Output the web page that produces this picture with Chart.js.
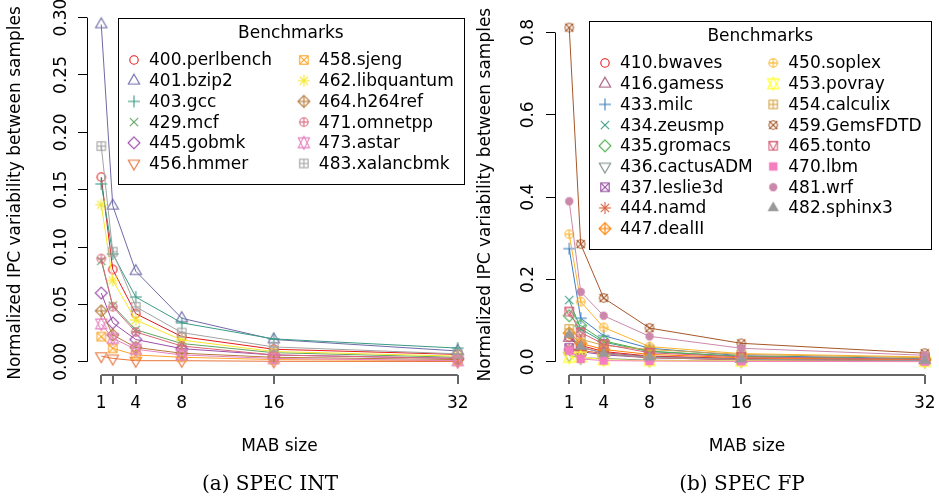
<!DOCTYPE html>
<html>
<head>
<meta charset="utf-8">
<script src="https://cdn.jsdelivr.net/npm/chart.js@4.4.0/dist/chart.umd.min.js"></script>
<style>
  html, body { margin: 0; padding: 0; background: #fff; overflow: hidden; }
  #wrap { position: relative; width: 939px; height: 501px; overflow: hidden; }
  canvas { position: absolute; top: 0; }
  #intChart { left: 0; }
  #fpChart { left: 470px; }
</style>
</head>
<body>
<div id="wrap">
  <canvas id="intChart" width="480" height="501"></canvas>
  <canvas id="fpChart" width="475" height="501"></canvas>
</div>
<script>
const mabSizes = [1, 2, 4, 8, 16, 32];

// SPEC INT
const intBenchmarks = ['400.perlbench', '401.bzip2', '403.gcc', '429.mcf', '445.gobmk', '456.hmmer',
  '458.sjeng', '462.libquantum', '464.h264ref', '471.omnetpp', '473.astar', '483.xalancbmk'];
const intValues = [
  [0.161, 0.0805, 0.042, 0.022, 0.011, 0.0065],
  [0.294, 0.136, 0.079, 0.038, 0.0195, 0.0095],
  [0.155, 0.094, 0.0565, 0.034, 0.020, 0.012],
  [0.088, 0.049, 0.028, 0.016, 0.008, 0.004],
  [0.060, 0.034, 0.0195, 0.0115, 0.006, 0.003],
  [0.005, 0.003, 0.001, 0.001, 0.0005, 0.0003],
  [0.022, 0.0118, 0.006, 0.004, 0.002, 0.001],
  [0.137, 0.071, 0.0365, 0.019, 0.009, 0.005],
  [0.0445, 0.0235, 0.0126, 0.0075, 0.004, 0.002],
  [0.090, 0.048, 0.026, 0.0138, 0.006, 0.003],
  [0.033, 0.0205, 0.011, 0.006, 0.003, 0.001],
  [0.188, 0.096, 0.048, 0.0255, 0.013, 0.007]
];
const intColors = ['#E41A1C', '#6E6AA8', '#3A9A85', '#62A562', '#9B4FA8', '#E8743B',
  '#FBA62B', '#F5E62A', '#B5793A', '#D8667A', '#E784C0', '#A3A3A3'];
const intTicks = [0, 0.05, 0.10, 0.15, 0.20, 0.25, 0.30];

// SPEC FP
const fpBenchmarks = ['410.bwaves', '416.gamess', '433.milc', '434.zeusmp', '435.gromacs', '436.cactusADM',
  '437.leslie3d', '444.namd', '447.dealII', '450.soplex', '453.povray', '454.calculix',
  '459.GemsFDTD', '465.tonto', '470.lbm', '481.wrf', '482.sphinx3'];
const fpValues = [
  [0.060, 0.040, 0.025, 0.014, 0.008, 0.004],
  [0.058, 0.035, 0.022, 0.013, 0.007, 0.004],
  [0.275, 0.106, 0.0635, 0.033, 0.015, 0.008],
  [0.150, 0.080, 0.048, 0.025, 0.013, 0.006],
  [0.112, 0.088, 0.051, 0.026, 0.013, 0.006],
  [0.015, 0.010, 0.008, 0.004, 0.002, 0.001],
  [0.034, 0.025, 0.017, 0.010, 0.005, 0.003],
  [0.030, 0.028, 0.020, 0.010, 0.005, 0.003],
  [0.070, 0.045, 0.030, 0.018, 0.010, 0.005],
  [0.310, 0.146, 0.0836, 0.037, 0.020, 0.012],
  [0.011, 0.012, 0.005, 0.003, 0.002, 0.001],
  [0.080, 0.055, 0.040, 0.030, 0.018, 0.010],
  [0.812, 0.286, 0.155, 0.082, 0.045, 0.021],
  [0.122, 0.0715, 0.043, 0.022, 0.012, 0.006],
  [0.027, 0.007, 0.003, 0.002, 0.001, 0.0005],
  [0.390, 0.170, 0.112, 0.062, 0.033, 0.016],
  [0.066, 0.037, 0.020, 0.011, 0.006, 0.003]
];
const fpColors = ['#E41A1C', '#A0587A', '#3D7FBF', '#3E9E86', '#4DAF4A', '#7E8C8A',
  '#984EA3', '#D9603B', '#FF7F00', '#FDB42A', '#FFFF33', '#D6A444',
  '#A65628', '#D6607A', '#F47EC0', '#CC88AA', '#999999'];
const fpTicks = [0, 0.2, 0.4, 0.6, 0.8];

Chart.defaults.font.family = "'DejaVu Sans', sans-serif";
Chart.defaults.font.size = 17;
Chart.defaults.color = '#000';

// R style plotting symbols (pch 1..17), drawn to small canvases used as point styles
const SYM_R = 4.2;
function pchSymbol(pch, color) {
  const c = document.createElement('canvas');
  c.width = 20; c.height = 20;
  const g = c.getContext('2d');
  g.translate(10, 10);
  g.strokeStyle = color; g.fillStyle = color; g.lineWidth = 1.1;
  const r = SYM_R, d = Math.SQRT2 * r;
  const line = (x1, y1, x2, y2) => { g.beginPath(); g.moveTo(x1, y1); g.lineTo(x2, y2); g.stroke(); };
  const circle = (fill) => { g.beginPath(); g.arc(0, 0, r, 0, Math.PI * 2); fill ? g.fill() : g.stroke(); };
  const square = (fill) => fill ? g.fillRect(-r, -r, 2 * r, 2 * r) : g.strokeRect(-r, -r, 2 * r, 2 * r);
  const poly = (pts, fill) => {
    g.beginPath();
    pts.forEach((p, i) => i ? g.lineTo(p[0], p[1]) : g.moveTo(p[0], p[1]));
    g.closePath();
    fill ? g.fill() : g.stroke();
  };
  const plus = (h) => { line(-h, 0, h, 0); line(0, -h, 0, h); };
  const cross = (h) => { line(-h, -h, h, h); line(-h, h, h, -h); };
  const ta = 1.5551 * r, tx = 1.3468 * r, tb = 0.7776 * r;
  const up = [[0, -ta], [tx, tb], [-tx, tb]];
  const down = [[0, ta], [tx, -tb], [-tx, -tb]];
  const diamond = [[0, -d], [d, 0], [0, d], [-d, 0]];
  switch (pch) {
    case 1: circle(false); break;
    case 2: poly(up); break;
    case 3: plus(d); break;
    case 4: cross(r); break;
    case 5: poly(diamond); break;
    case 6: poly(down); break;
    case 7: square(); cross(r); break;
    case 8: cross(r); plus(d); break;
    case 9: poly(diamond); plus(d); break;
    case 10: circle(); plus(r); break;
    case 11: {
      const yc = 0.5 * (tb + ta);
      poly([[0, -ta], [tx, yc], [-tx, yc]]);
      poly([[0, ta], [tx, -yc], [-tx, -yc]]);
      break;
    }
    case 12: square(); plus(r); break;
    case 13: circle(); cross(r); break;
    case 14: square(); poly([[-r, -r], [0, r], [r, -r]]); break;
    case 15: square(true); break;
    case 16: circle(true); break;
    case 17: poly(up, true); break;
  }
  return c;
}

// axis lines over the tick range only, legend box inside the plot and caption
const rStyle = {
  id: 'rStyle',
  afterDraw(chart, args, o) {
    const { ctx, chartArea: area, scales: { x, y } } = chart;
    ctx.save();
    ctx.strokeStyle = '#000';
    ctx.lineWidth = 1;
    const ax = Math.round(area.left) + 0.5;
    ctx.beginPath();
    ctx.moveTo(ax, y.getPixelForValue(o.yTicks[0]));
    ctx.lineTo(ax, y.getPixelForValue(o.yTicks[o.yTicks.length - 1]));
    ctx.stroke();
    ctx.strokeStyle = '#666';
    ctx.lineWidth = 2;
    const ay = Math.round(area.bottom);
    ctx.beginPath();
    ctx.moveTo(x.getPixelForValue(mabSizes[0]), ay);
    ctx.lineTo(x.getPixelForValue(mabSizes[mabSizes.length - 1]), ay);
    ctx.stroke();

    // legend
    ctx.font = '17px "DejaVu Sans"';
    const W = Math.max(...o.names.map(n => ctx.measureText(n).width));
    const rows = Math.ceil(o.names.length / 2);
    const bw = 76 + 2 * W, bh = 41 + (rows - 1) * 20.7 + 21;
    const bx = Math.round(area.right - 8 - bw), by = Math.round(area.top + 7);
    ctx.fillStyle = '#fff';
    ctx.fillRect(bx, by, bw, bh);
    ctx.strokeStyle = '#000';
    ctx.lineWidth = 1;
    ctx.strokeRect(bx + 0.5, by + 0.5, Math.round(bw), Math.round(bh));
    ctx.fillStyle = '#000';
    ctx.textBaseline = 'middle';
    ctx.textAlign = 'center';
    ctx.fillText('Benchmarks', bx + bw / 2, by + 15.5);
    ctx.textAlign = 'left';
    o.names.forEach((n, i) => {
      const col = Math.floor(i / rows), row = i % rows;
      const sx = bx + 16 + col * (W + 35);
      const sy = by + 42 + row * 20.7;
      ctx.drawImage(o.symbols[i], sx - 10, sy - 10);
      ctx.fillText(n, sx + 15, sy + 1);
    });

    // caption
    ctx.font = '20px "DejaVu Serif"';
    ctx.textAlign = 'center';
    ctx.fillText(o.caption, o.captionX, 485);
    ctx.restore();
  }
};

function buildChart(id, names, values, colors, yTicks, cfg) {
  const all = values.flat();
  const yMin = Math.min(...all), yMax = Math.max(...all);
  const yPad = 0.04 * (yMax - yMin);
  const xLo = mabSizes[0], xHi = mabSizes[mabSizes.length - 1];
  const xPad = 0.04 * (xHi - xLo);
  const symbols = names.map((n, i) => pchSymbol(i + 1, colors[i]));

  const datasets = names.map((name, i) => ({
    label: name,
    data: mabSizes.map((x, j) => ({ x: x, y: values[i][j] })),
    borderColor: colors[i],
    backgroundColor: colors[i],
    borderWidth: 1,
    pointStyle: symbols[i],
    pointRadius: 5,
    pointHoverRadius: 5,
    tension: 0,
    order: -i
  }));

  return new Chart(document.getElementById(id), {
    type: 'line',
    data: { datasets: datasets },
    options: {
      responsive: false,
      animation: false,
      events: [],
      layout: { padding: { left: 0, top: 11, right: cfg.padRight, bottom: 0 } },
      plugins: {
        legend: { display: false },
        tooltip: { enabled: false },
        rStyle: { names: names, symbols: symbols, yTicks: yTicks, caption: cfg.caption, captionX: cfg.captionX }
      },
      scales: {
        x: {
          type: 'linear',
          min: xLo - xPad,
          max: xHi + xPad,
          afterBuildTicks: s => { s.ticks = mabSizes.map(v => ({ value: v })); },
          afterFit: s => { s.height = 126; },
          border: { display: false },
          grid: { drawOnChartArea: false, drawTicks: true, tickLength: 9, color: '#666', lineWidth: 2 },
          ticks: {
            autoSkip: false, maxRotation: 0, padding: 9,
            callback: v => (v === 2 ? '' : String(v))
          },
          title: { display: true, text: 'MAB size', padding: { bottom: 44 } }
        },
        y: {
          min: yMin - yPad,
          max: yMax + yPad,
          afterBuildTicks: s => { s.ticks = yTicks.map(v => ({ value: v })); },
          afterFit: s => { s.width = cfg.yWidth; },
          border: { display: false },
          grid: { drawOnChartArea: false, drawTicks: true, tickLength: 9, color: '#000', lineWidth: 1 },
          ticks: {
            minRotation: 90, maxRotation: 90, crossAlign: 'center', padding: cfg.yTickPad,
            callback: v => v.toFixed(cfg.decimals)
          },
          title: { display: true, text: 'Normalized IPC variability between samples', padding: { top: 5 } }
        }
      }
    },
    plugins: [rStyle]
  });
}

buildChart('intChart', intBenchmarks, intValues, intColors, intTicks,
  { padRight: 8, yWidth: 87, yTickPad: -3, decimals: 2, caption: '(a) SPEC INT', captionX: 270 });
buildChart('fpChart', fpBenchmarks, fpValues, fpColors, fpTicks,
  { padRight: 5, yWidth: 85, yTickPad: 4, decimals: 1, caption: '(b) SPEC FP', captionX: 272 });
</script>
</body>
</html>
